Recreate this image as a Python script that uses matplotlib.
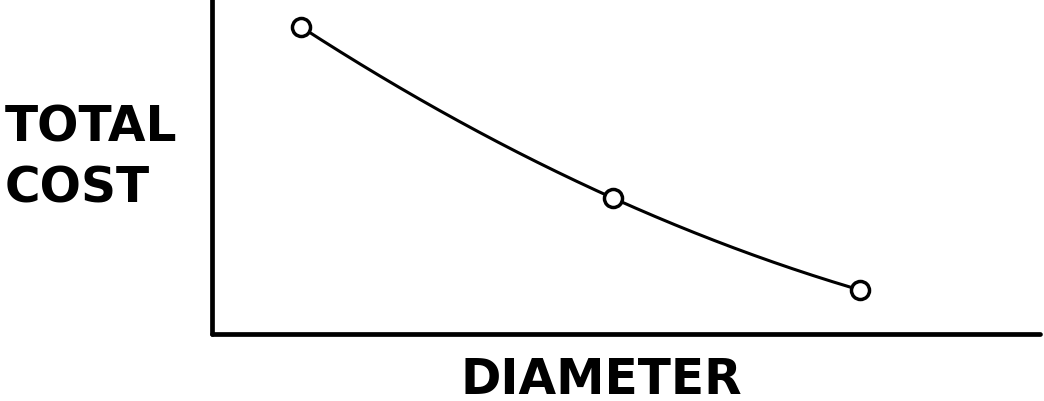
import numpy as np
import matplotlib
matplotlib.use("Agg")
import matplotlib.pyplot as plt

# points (axes units 0..1, no ticks)
diameter = [0.108, 0.484, 0.783]
total_cost = [0.916, 0.406, 0.131]

fig = plt.figure(figsize=(10.44, 4.02), dpi=100)
ax = fig.add_axes([212 / 1044, 1 - 335 / 402, (1040 - 212) / 1044, 335 / 402])

# smooth curve through the three points
coef = np.polyfit(diameter, total_cost, 2)
xs = np.linspace(diameter[0], diameter[-1], 200)
ax.plot(xs, np.polyval(coef, xs), color="black", lw=2.2, solid_capstyle="round")
ax.plot(diameter, total_cost, "o", ms=13, mfc="white", mec="black", mew=2.5)

ax.set_xlim(0, 1)
ax.set_ylim(0, 1)
ax.set_xticks([])
ax.set_yticks([])
for s in ["top", "right"]:
    ax.spines[s].set_visible(False)
for s in ["left", "bottom"]:
    ax.spines[s].set_linewidth(3.4)
    ax.spines[s].set_capstyle("round")

fig.text(5 / 1044, 1 - 158 / 402, "TOTAL\nCOST", fontsize=35, fontweight="bold",
         ha="left", va="center", linespacing=1.32)
fig.text(601 / 1044, 1 - 380 / 402, "DIAMETER", fontsize=35, fontweight="bold",
         ha="center", va="center")

fig.savefig("out.png", dpi=100)
